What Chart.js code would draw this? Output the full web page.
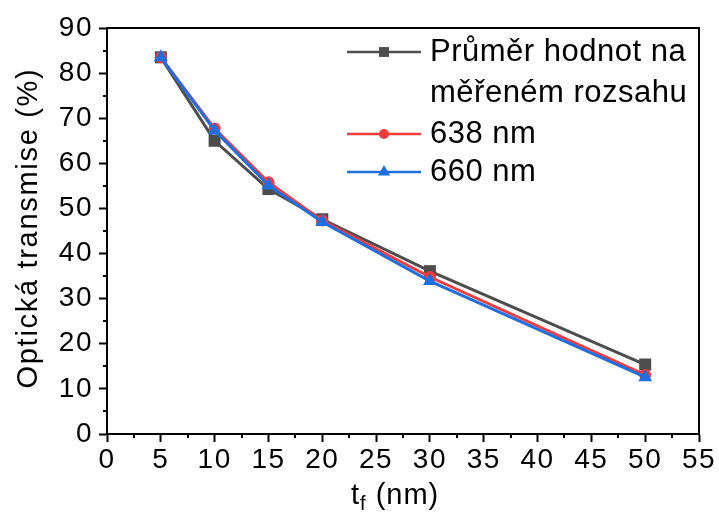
<!doctype html>
<html lang="cs">
<head>
  <meta charset="utf-8">
  <title>Optická transmise</title>
  <style>
    * { margin: 0; padding: 0; }
    body { background: #fff; }
    .chartBox { width: 719px; height: 514px; }
  </style>
</head>
<body>
  <div class="chartBox">
    <canvas id="myChart" width="719" height="514"></canvas>
  </div>
  <script src="https://cdn.jsdelivr.net/npm/chart.js/dist/chart.umd.min.js"></script>
  <script>
    // data
    const thickness = [5, 10, 15, 20, 30, 50];
    const average = [83.5, 65.0, 54.3, 47.6, 36.1, 15.4];
    const red638 = [83.5, 67.7, 55.8, 47.3, 34.8, 13.1];
    const blue660 = [83.5, 67.3, 55.1, 47.0, 33.9, 12.6];
    const seriesLabels = ['Průměr hodnot na|měřeném rozsahu', '638 nm', '660 nm'];
    const xTicks = [0, 5, 10, 15, 20, 25, 30, 35, 40, 45, 50, 55];
    const yTicks = [0, 10, 20, 30, 40, 50, 60, 70, 80, 90];

    const colors = ['#4d4d4d', '#f23c3c', '#1f6fe0'];
    const styles = ['rect', 'circle', 'triangle'];
    const FONT = '"Liberation Sans", Arial, sans-serif';

    const toPoints = ys => thickness.map((x, i) => ({ x: x, y: ys[i] }));

    // the reference font runs a little wider than Arial
    const spacing = {
      id: 'spacing',
      beforeDraw(chart) {
        chart.ctx.letterSpacing = '1.5px';
      }
    };

    // frame, minor ticks, axis titles, legend
    const extras = {
      id: 'extras',
      afterDraw(chart) {
        const { ctx, chartArea: { top, bottom, left, right } } = chart;
        const xs = chart.scales.x, ys = chart.scales.y;
        ctx.save();
        ctx.strokeStyle = '#000';
        ctx.lineWidth = 2;
        ctx.beginPath();
        ctx.moveTo(left, top);
        ctx.lineTo(right, top);
        ctx.lineTo(right, bottom);
        ctx.stroke();

        // minor ticks
        ctx.beginPath();
        for (let i = 0; i < xTicks.length - 1; i++) {
          const px = Math.round(xs.getPixelForValue(xTicks[i] + 2.5));
          ctx.moveTo(px, bottom);
          ctx.lineTo(px, bottom + 4);
        }
        for (let i = 0; i < yTicks.length - 1; i++) {
          const py = Math.round(ys.getPixelForValue(yTicks[i] + 5));
          ctx.moveTo(left, py);
          ctx.lineTo(left - 4, py);
        }
        ctx.stroke();

        // axis titles
        ctx.fillStyle = '#000';
        ctx.font = '29px ' + FONT;
        ctx.letterSpacing = '1.7px';
        ctx.textBaseline = 'middle';
        ctx.textAlign = 'center';
        ctx.save();
        ctx.translate(29, 228);
        ctx.rotate(-Math.PI / 2);
        ctx.fillText('Optická transmise (%)', 0, 0);
        ctx.restore();

        ctx.letterSpacing = '1px';
        ctx.textAlign = 'left';
        ctx.textBaseline = 'alphabetic';
        const baseY = 504;
        let tx = 351;
        ctx.fillText('t', tx, baseY);
        tx += ctx.measureText('t').width;
        ctx.font = '20px ' + FONT;
        ctx.fillText('f', tx, baseY + 6);
        tx += ctx.measureText('f').width;
        ctx.font = '29px ' + FONT;
        ctx.fillText(' (nm)', tx, baseY);

        // legend
        const rows = [52, 134, 172];
        ctx.font = '31px ' + FONT;
        ctx.letterSpacing = '0.5px';
        ctx.textBaseline = 'middle';
        seriesLabels.forEach((lab, i) => {
          const y = rows[i];
          ctx.strokeStyle = colors[i];
          ctx.lineWidth = 2.5;
          ctx.beginPath();
          ctx.moveTo(347, y);
          ctx.lineTo(421, y);
          ctx.stroke();
          ctx.fillStyle = colors[i];
          const r = i === 0 ? 7 : (i === 1 ? 5 : 7);
          Chart.helpers.drawPoint(ctx, { pointStyle: styles[i], radius: r, borderWidth: 0 }, 384, y);
          ctx.fillStyle = '#000';
          lab.split('|').forEach((line, k) => {
            ctx.fillText(line, 430, y + k * 41);
          });
        });
        ctx.restore();
      }
    };

    const data = {
      datasets: [
        { label: '638 nm', data: toPoints(red638), order: 2 },
        { label: '660 nm', data: toPoints(blue660), order: 1 },
        { label: 'Průměr hodnot na měřeném rozsahu', data: toPoints(average), order: 3 }
      ]
    };
    const idx = { '638 nm': 1, '660 nm': 2 };
    data.datasets.forEach(ds => {
      const i = idx[ds.label] !== undefined ? idx[ds.label] : 0;
      ds.borderColor = colors[i];
      ds.backgroundColor = colors[i];
      ds.pointBackgroundColor = colors[i];
      ds.pointBorderColor = colors[i];
      ds.pointStyle = styles[i];
      ds.pointRadius = i === 0 ? 8.5 : (i === 1 ? 6 : 8);
      ds.pointBorderWidth = 0;
      ds.borderWidth = 3;
      ds.tension = 0;
    });

    const config = {
      type: 'scatter',
      data,
      options: {
        responsive: false,
        animation: false,
        showLine: true,
        layout: { padding: { top: 28, right: 20, left: 0, bottom: 0 } },
        plugins: {
          legend: { display: false },
          tooltip: { enabled: false }
        },
        scales: {
          x: {
            type: 'linear',
            min: 0,
            max: 55,
            afterFit: scale => { scale.height = 80; },
            afterBuildTicks: scale => { scale.ticks = xTicks.map(v => ({ value: v })); },
            grid: { drawOnChartArea: false, tickLength: 8, tickWidth: 2, tickColor: '#000' },
            border: { display: true, color: '#000', width: 2 },
            ticks: { color: '#000', font: { family: FONT, size: 28 }, padding: 1, maxRotation: 0 }
          },
          y: {
            type: 'linear',
            min: 0,
            max: 90,
            afterFit: scale => { scale.width = 107; },
            afterBuildTicks: scale => { scale.ticks = yTicks.map(v => ({ value: v })); },
            grid: { drawOnChartArea: false, tickLength: 8, tickWidth: 2, tickColor: '#000' },
            border: { display: true, color: '#000', width: 2 },
            ticks: { color: '#000', font: { family: FONT, size: 28 }, padding: 6 }
          }
        }
      },
      plugins: [spacing, extras]
    };

    const myChart = new Chart(document.getElementById('myChart'), config);
  </script>
</body>
</html>
